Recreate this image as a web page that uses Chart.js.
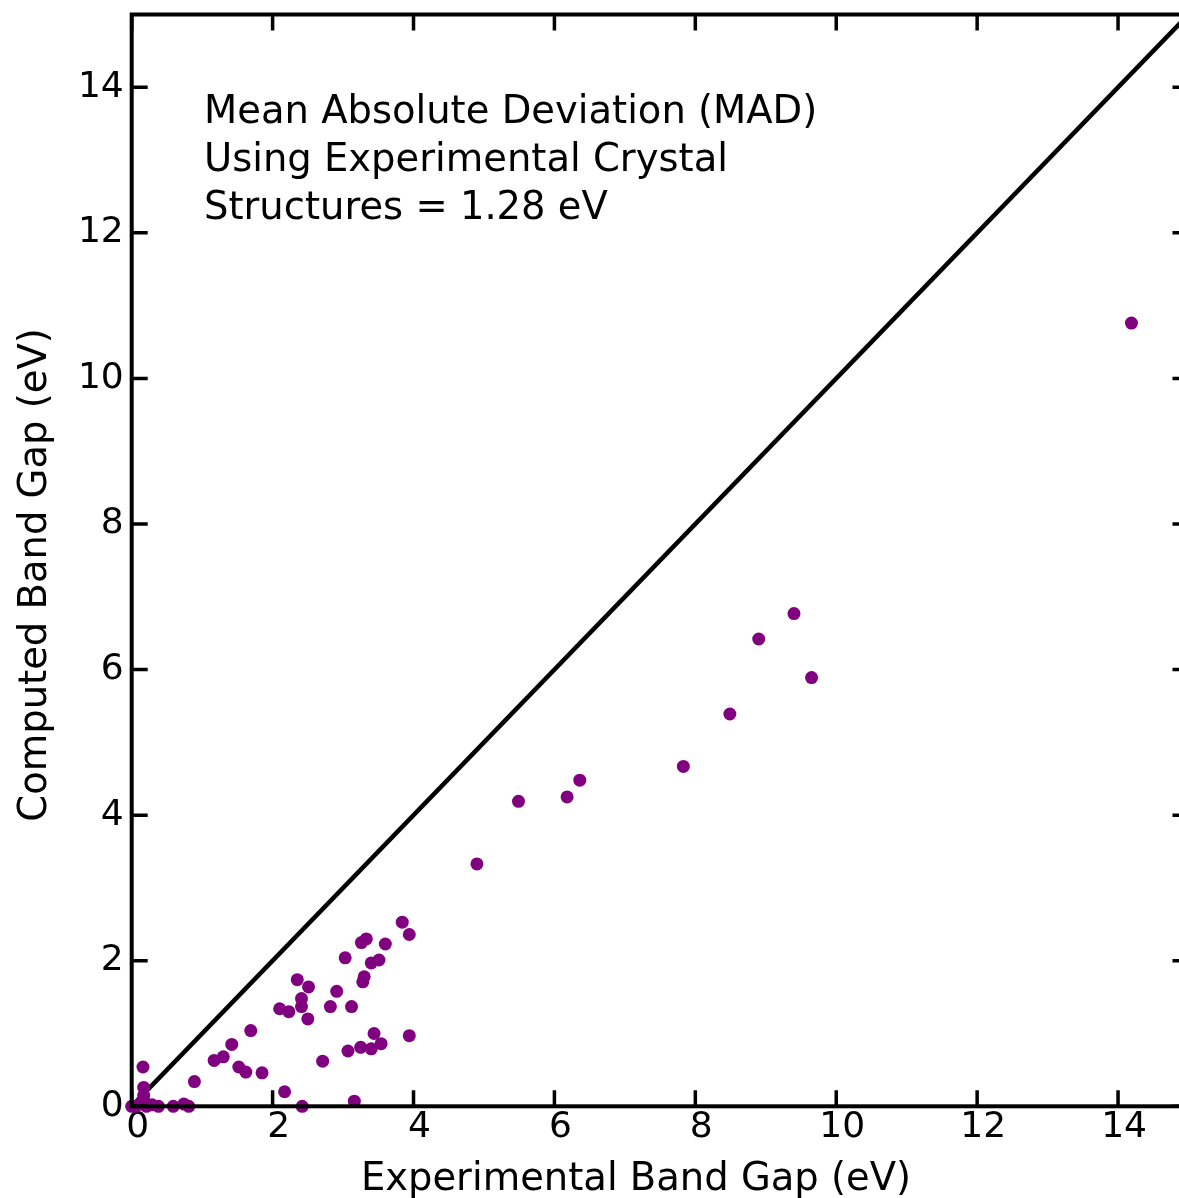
<!DOCTYPE html>
<html>
<head>
<meta charset="utf-8">
<script src="https://cdn.jsdelivr.net/npm/chart.js@4.4.1/dist/chart.umd.min.js"></script>
<style>
    html, body { margin: 0; padding: 0; background: #fff; overflow: hidden; }
    #wrap { width: 1195px; height: 1198px; }
</style>
</head>
<body>
<div id="wrap"><canvas id="c" width="1195" height="1198"></canvas></div>
<script>
    // --- Data ---
    const expGap = [
        0.00, 0.05, 0.12, 0.17, 0.21, 0.29, 0.38, 0.59, 0.74, 0.81, 0.17, 0.17, 0.16,
        0.89, 1.17, 1.30, 1.42, 1.52, 1.62, 1.69, 1.85, 2.10, 2.17, 2.23, 2.35, 2.41,
        2.41, 2.42, 2.51, 2.50, 2.71, 2.82, 2.91, 3.03, 3.07, 3.12, 3.16, 3.25, 3.26,
        3.30, 3.28, 3.33, 3.40, 3.40, 3.44, 3.51, 3.54, 3.60, 3.84, 3.94, 3.94,
        4.90, 5.49, 6.18, 6.36, 7.83, 8.49, 8.90, 9.40, 9.65, 14.19
    ];
    const compGap = [
        0.00, 0.00, 0.03, 0.08, 0.00, 0.02, 0.00, 0.00, 0.03, 0.00, 0.15, 0.26, 0.54,
        0.34, 0.63, 0.68, 0.85, 0.54, 0.47, 1.04, 0.46, 1.34, 0.20, 1.30, 1.74, 1.48,
        1.37, 0.00, 1.64, 1.20, 0.62, 1.37, 1.58, 2.04, 0.76, 1.37, 0.07, 0.81, 2.25,
        1.78, 1.71, 2.30, 1.97, 0.79, 1.00, 2.01, 0.86, 2.23, 2.53, 2.36, 0.97,
        3.33, 4.19, 4.25, 4.48, 4.67, 5.39, 6.42, 6.77, 5.89, 10.76
    ];
    const parityX = [0, 15];
    const parityY = [0, 15];
    const tickValues = [0, 2, 4, 6, 8, 10, 12, 14];
    const xTitle = 'Experimental Band Gap (eV)';
    const yTitle = 'Computed Band Gap (eV)';
    const noteLines = ['Mean Absolute Deviation (MAD)', 'Using Experimental Crystal', 'Structures = 1.28 eV'];

    const FONT = '"DejaVu Sans", sans-serif';

    // --- Frame with inward ticks, axis titles, note ---
    const framePlugin = {
        id: 'frame',
        afterDatasetsDraw(chart) {
            const { ctx, chartArea: a, scales: { x, y } } = chart;
            const len = 16;
            ctx.save();
            ctx.strokeStyle = '#000';
            ctx.lineWidth = 3.5;
            ctx.beginPath();
            tickValues.forEach(v => {
                const px = x.getPixelForValue(v);
                ctx.moveTo(px, a.bottom); ctx.lineTo(px, a.bottom - len);
                ctx.moveTo(px, a.top); ctx.lineTo(px, a.top + len);
                const py = y.getPixelForValue(v);
                ctx.moveTo(a.left, py); ctx.lineTo(a.left + len, py);
                ctx.moveTo(a.right, py); ctx.lineTo(a.right - len, py);
            });
            ctx.stroke();
            ctx.lineWidth = 4;
            ctx.strokeRect(a.left, a.top, a.right - a.left, a.bottom - a.top);

            ctx.fillStyle = '#000';
            ctx.font = '38.5px ' + FONT;
            ctx.textBaseline = 'alphabetic';
            ctx.textAlign = 'left';
            noteLines.forEach((t, i) => ctx.fillText(t, 204, 123 + i * 48));

            ctx.textAlign = 'center';
            ctx.fillText(xTitle, 636, 1190);
            ctx.save();
            ctx.translate(46, 575);
            ctx.rotate(-Math.PI / 2);
            ctx.fillText(yTitle, 0, 0);
            ctx.restore();
            ctx.restore();
        }
    };

    const tickOpts = {
        color: '#000',
        font: { family: FONT, size: 36 },
        autoSkip: false,
        maxRotation: 0
    };

    new Chart(document.getElementById('c'), {
        type: 'scatter',
        data: {
            datasets: [
                {
                    data: expGap.map((v, i) => ({ x: v, y: compGap[i] })),
                    backgroundColor: '#800080',
                    borderWidth: 0,
                    pointRadius: 6.5,
                    clip: false
                },
                {
                    type: 'line',
                    data: parityX.map((v, i) => ({ x: v, y: parityY[i] })),
                    borderColor: '#000',
                    borderWidth: 4.5,
                    pointRadius: 0,
                    fill: false
                }
            ]
        },
        options: {
            responsive: false,
            animation: false,
            events: [],
            layout: { padding: { left: 0, right: 1.9, top: 14.5, bottom: 0 } },
            scales: {
                x: {
                    type: 'linear', min: 0, max: 15,
                    grid: { display: false, drawTicks: false },
                    border: { display: false },
                    ticks: { ...tickOpts, padding: 0, labelOffset: 6 },
                    afterBuildTicks: s => { s.ticks = tickValues.map(v => ({ value: v })); },
                    afterFit: s => { s.height = 91.7; s.paddingLeft = 0; s.paddingRight = 0; }
                },
                y: {
                    type: 'linear', min: 0, max: 15,
                    grid: { display: false, drawTicks: false },
                    border: { display: false },
                    ticks: { ...tickOpts, padding: 8 },
                    afterBuildTicks: s => { s.ticks = tickValues.map(v => ({ value: v })); },
                    afterFit: s => { s.width = 131.7; s.paddingTop = 0; s.paddingBottom = 0; }
                }
            },
            plugins: {
                legend: { display: false },
                tooltip: { enabled: false }
            }
        },
        plugins: [framePlugin]
    });
</script>
</body>
</html>
